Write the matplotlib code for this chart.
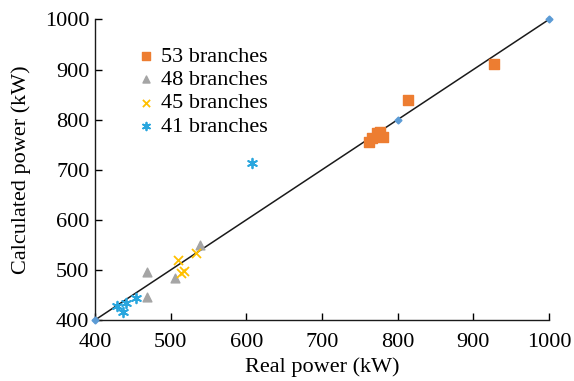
import matplotlib
matplotlib.use("Agg")
import matplotlib.pyplot as plt

plt.rcParams["font.family"] = ["Liberation Serif", "DejaVu Serif"]
plt.rcParams["font.size"] = 16

# reference line (Excel style diagonal with diamond markers)
ref_x = [400, 800, 1000]
ref_y = [400, 800, 1000]

b53_real = [762, 766, 773, 777, 781, 813, 927]
b53_calc = [755, 763, 773, 775, 765, 839, 911]

b48_real = [469, 469, 506, 539]
b48_calc = [496, 446, 484, 550]

b45_real = [510, 533, 513, 518]
b45_calc = [519, 534, 494, 498]

b41_real = [429, 441, 454, 437, 607]
b41_calc = [428, 434, 444, 416, 713]

fig = plt.figure(figsize=(5.74, 3.81), dpi=100)
ax = fig.add_axes([0.1655, 0.160, 0.791, 0.789])

ax.plot(ref_x, ref_y, color="#1a1a1a", lw=1.1, zorder=2)
ax.plot(ref_x, ref_y, ls="none", marker="D", ms=3.5, color="#5B9BD5",
        zorder=4, clip_on=False)

ax.scatter(b53_real, b53_calc, marker="s", s=42, color="#ED7D31",
           label="53 branches", zorder=3)
ax.scatter(b48_real, b48_calc, marker="^", s=40, color="#A5A5A5",
           label="48 branches", zorder=3)
ax.scatter(b45_real, b45_calc, marker="x", s=42, color="#FFC000",
           linewidths=1.3, label="45 branches", zorder=3)
ax.scatter(b41_real, b41_calc, marker=(6, 2, 0), s=48, color="#29A6DE",
           linewidths=1.3, label="41 branches", zorder=3)

ax.set_xlim(400, 1000)
ax.set_ylim(400, 1000)
ax.set_xticks(range(400, 1001, 100))
ax.set_yticks(range(400, 1001, 100))
ax.spines["top"].set_visible(False)
ax.spines["right"].set_visible(False)
for s in ("left", "bottom"):
    ax.spines[s].set_linewidth(1.0)
    ax.spines[s].set_color("#1a1a1a")
ax.tick_params(direction="in", length=5, width=1.0)
ax.tick_params(axis="x", pad=9)
ax.tick_params(axis="y", pad=4)

ax.set_xlabel("Real power (kW)", labelpad=4)
ax.set_ylabel("Calculated power (kW)", labelpad=10)

ax.legend(loc="upper left", bbox_to_anchor=(0.065, 0.94), frameon=False,
          handletextpad=0.15, labelspacing=0.12, borderaxespad=0,
          handlelength=1.1, fontsize=16, markerscale=0.8)

fig.savefig("out.png", dpi=100)
